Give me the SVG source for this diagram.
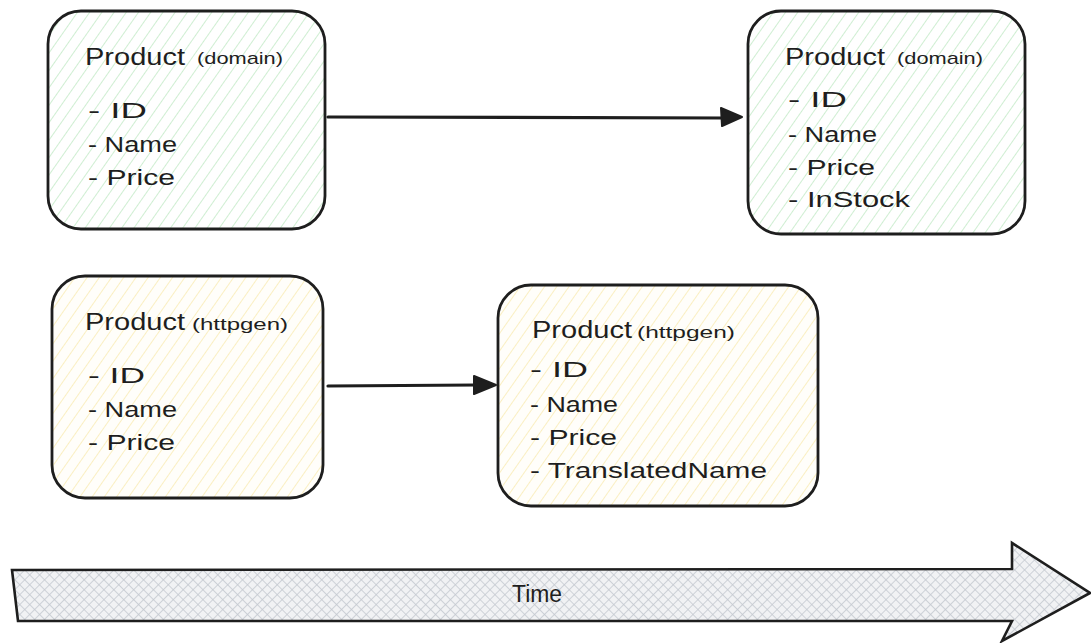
<svg xmlns="http://www.w3.org/2000/svg" width="1091" height="643" viewBox="0 0 1091 643">
  <style>
    .box { stroke: #1e1e1e; stroke-width: 2.8; }
    .title { font-family: "Liberation Sans", "DejaVu Sans", sans-serif; font-size: 23px; fill: #1e1e1e; }
    .tag { font-family: "Liberation Sans", "DejaVu Sans", sans-serif; font-size: 17px; fill: #1e1e1e; }
    .item { font-family: "Liberation Sans", "DejaVu Sans", sans-serif; font-size: 22px; fill: #1e1e1e; }
    .edge { stroke: #1e1e1e; stroke-width: 3.2; fill: none; stroke-linecap: round; }
    .head { fill: #1e1e1e; stroke: #1e1e1e; stroke-width: 2; stroke-linejoin: round; }
  </style>
  <defs>
    <pattern id="hatch-green" width="10" height="10" patternUnits="userSpaceOnUse" patternTransform="rotate(35)">
      <rect width="10" height="10" fill="#ffffff"/>
      <line x1="0" y1="0" x2="0" y2="10" stroke="#bfe9c4" stroke-width="1.5"/>
    </pattern>
    <pattern id="hatch-yellow" width="10" height="10" patternUnits="userSpaceOnUse" patternTransform="rotate(35)">
      <rect width="10" height="10" fill="#fffefa"/>
      <line x1="0" y1="0" x2="0" y2="10" stroke="#f9eab0" stroke-width="1.5"/>
    </pattern>
    <pattern id="cross-gray" width="7" height="7" patternUnits="userSpaceOnUse" patternTransform="rotate(45)">
      <rect width="7" height="7" fill="#f1f2f4"/>
      <line x1="0" y1="0" x2="0" y2="7" stroke="#c4c9d0" stroke-width="1.6"/>
      <line x1="0" y1="0" x2="7" y2="0" stroke="#c4c9d0" stroke-width="1.6"/>
    </pattern>
  </defs>

  <!-- domain model, before -->
  <g id="domain-old">
    <rect class="box" x="48" y="11" width="277" height="218" rx="33" fill="url(#hatch-green)"/>
    <text class="title" x="85" y="65" textLength="100" lengthAdjust="spacingAndGlyphs">Product</text>
    <text class="tag" x="197" y="64" textLength="86" lengthAdjust="spacingAndGlyphs">(domain)</text>
    <text class="item" x="88" y="118" textLength="59" lengthAdjust="spacingAndGlyphs">- ID</text>
    <text class="item" x="88" y="152" textLength="89" lengthAdjust="spacingAndGlyphs">- Name</text>
    <text class="item" x="88" y="185" textLength="87" lengthAdjust="spacingAndGlyphs">- Price</text>
  </g>

  <!-- domain model, after -->
  <g id="domain-new">
    <rect class="box" x="748" y="11" width="277" height="223" rx="33" fill="url(#hatch-green)"/>
    <text class="title" x="785" y="65" textLength="100" lengthAdjust="spacingAndGlyphs">Product</text>
    <text class="tag" x="897" y="64" textLength="86" lengthAdjust="spacingAndGlyphs">(domain)</text>
    <text class="item" x="788" y="107" textLength="59" lengthAdjust="spacingAndGlyphs">- ID</text>
    <text class="item" x="788" y="142" textLength="89" lengthAdjust="spacingAndGlyphs">- Name</text>
    <text class="item" x="788" y="175" textLength="87" lengthAdjust="spacingAndGlyphs">- Price</text>
    <text class="item" x="788" y="207" textLength="122" lengthAdjust="spacingAndGlyphs">- InStock</text>
  </g>

  <!-- generated http model, before -->
  <g id="httpgen-old">
    <rect class="box" x="52" y="276" width="271" height="222" rx="33" fill="url(#hatch-yellow)"/>
    <text class="title" x="85" y="330" textLength="100" lengthAdjust="spacingAndGlyphs">Product</text>
    <text class="tag" x="192" y="330" textLength="96" lengthAdjust="spacingAndGlyphs">(httpgen)</text>
    <text class="item" x="88" y="383" textLength="57" lengthAdjust="spacingAndGlyphs">- ID</text>
    <text class="item" x="88" y="417" textLength="89" lengthAdjust="spacingAndGlyphs">- Name</text>
    <text class="item" x="88" y="450" textLength="87" lengthAdjust="spacingAndGlyphs">- Price</text>
  </g>

  <!-- generated http model, after -->
  <g id="httpgen-new">
    <rect class="box" x="498" y="285" width="320" height="221" rx="33" fill="url(#hatch-yellow)"/>
    <text class="title" x="532" y="338" textLength="100" lengthAdjust="spacingAndGlyphs">Product</text>
    <text class="tag" x="637" y="338" textLength="98" lengthAdjust="spacingAndGlyphs">(httpgen)</text>
    <text class="item" x="530" y="377" textLength="58" lengthAdjust="spacingAndGlyphs">- ID</text>
    <text class="item" x="530" y="412" textLength="88" lengthAdjust="spacingAndGlyphs">- Name</text>
    <text class="item" x="530" y="445" textLength="87" lengthAdjust="spacingAndGlyphs">- Price</text>
    <text class="item" x="530" y="478" textLength="237" lengthAdjust="spacingAndGlyphs">- TranslatedName</text>
  </g>

  <!-- connectors -->
  <g id="connectors">
    <path class="edge" d="M328 117 L724 118"/>
    <path class="head" d="M721 108 L742 117 L722 126 Z"/>
    <path class="edge" d="M328 386 L476 385"/>
    <path class="head" d="M474 376 L496 385 L474 394 Z"/>
  </g>

  <!-- timeline -->
  <g id="time">
    <path d="M12 570 L1012 569 L1012 543 L1090 593 L1002 641 L1012 621 L18 621 Z" fill="url(#cross-gray)" stroke="#1e1e1e" stroke-width="2.6" stroke-linejoin="miter"/>
    <text x="512" y="602" font-family="Liberation Sans, DejaVu Sans, sans-serif" font-size="23" fill="#1e1e1e" textLength="50" lengthAdjust="spacingAndGlyphs">Time</text>
  </g>
</svg>
